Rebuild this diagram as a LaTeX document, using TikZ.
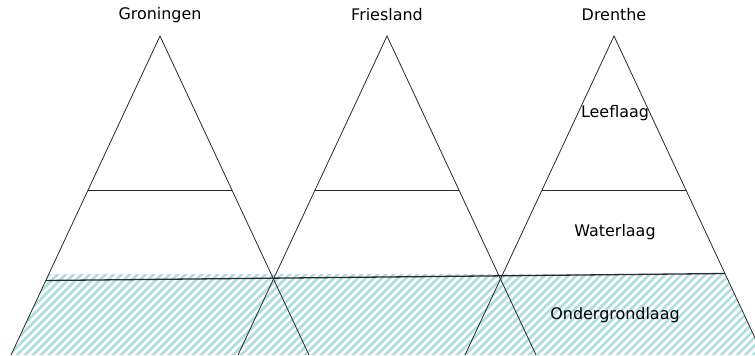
\documentclass[tikz,border=0pt]{standalone}
\usepackage{fontspec}
\setmainfont{DejaVu Sans}
\usetikzlibrary{calc}
\definecolor{LineGray}{HTML}{2A2A2A}
\definecolor{HatchTeal}{HTML}{ADDDDD}

\begin{document}
\begin{tikzpicture}[
    x=1bp, y=-1bp,
    edge/.style={draw=LineGray, line width=0.8bp},
    hatch/.style={draw=HatchTeal, line width=2.5bp},
    lbl/.style={font=\fontsize{16}{19}\selectfont, text=black, inner sep=0pt}
  ]
    \useasboundingbox (0,0) rectangle (755,355);
    \clip (0,0) rectangle (755,355);

    \coordinate (gr) at (160,36);
    \coordinate (fr) at (387,36);
    \coordinate (dr) at (614,36);
    \coordinate (gl) at (46,280.5);
    \coordinate (gt) at (725,273.5);

    % hatched ground layer
    \begin{scope}
      \clip (49,274) -- (725,274) -- (763,355) -- (11,355) -- cycle;
      \foreach \x in {-100,-92,...,760}
        \draw[hatch] (\x,360) -- ++(95,-95);
    \end{scope}

    % the three pyramids
    \foreach \t in {gr,fr,dr}{
      \draw[edge] ($(\t)+(-149,319)$) -- (\t) -- ($(\t)+(149,319)$);
      \draw[edge] ($(\t)+(-72,154)$) -- ($(\t)+(72,154)$);
    }
    \draw[edge, line width=1.3bp] (gl) -- (gt);

    \node[lbl] (grName) at (160,15) {Groningen};
    \node[lbl] (frName) at (387,15) {Friesland};
    \node[lbl] (drName) at (614,15) {Drenthe};
    \node[lbl] (leef)   at (615,113) {Leeflaag};
    \node[lbl] (water)  at (615,232) {Waterlaag};
    \node[lbl] (onder)  at (615,315) {Ondergrondlaag};
  \end{tikzpicture}
\end{document}
